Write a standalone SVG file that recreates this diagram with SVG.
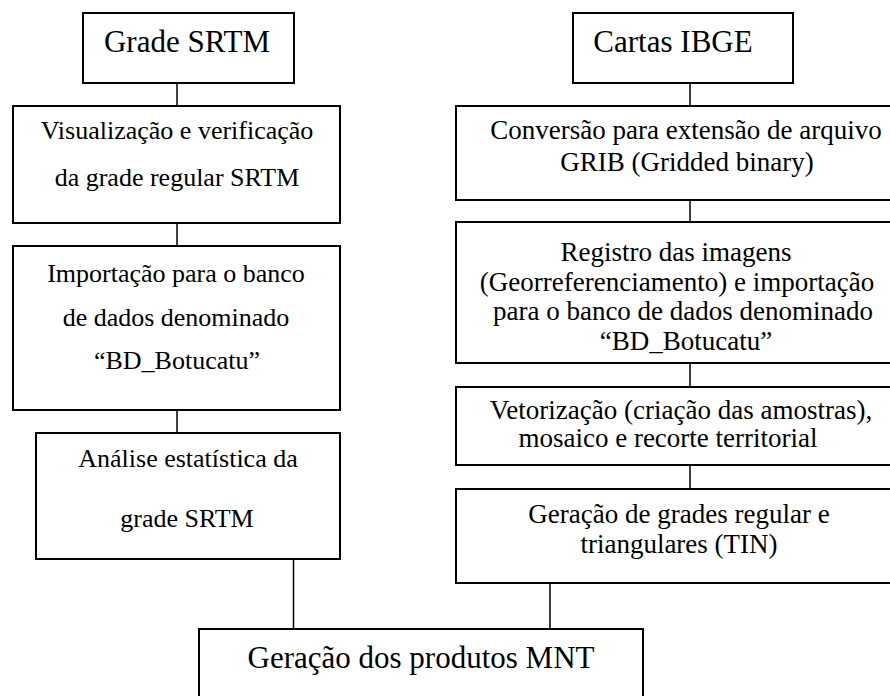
<svg xmlns="http://www.w3.org/2000/svg" width="890" height="696" viewBox="0 0 890 696">
<style>
.box{fill:#fff;stroke:#000;stroke-width:2}
.con line{stroke:#000;stroke-width:1.5}
text{fill:#000;text-anchor:middle}
.h{font-size:31px}
.l{font-size:26px}
.r{font-size:27px}
</style>
<rect width="890" height="696" fill="#fff"/>
<g id="connectors" class="con">
<line x1="177" y1="83" x2="177" y2="106"/>
<line x1="177" y1="223" x2="177" y2="246"/>
<line x1="177" y1="410" x2="177" y2="433"/>
<line x1="293.5" y1="559" x2="293.5" y2="629"/>
<line x1="690" y1="83" x2="690" y2="106"/>
<line x1="690" y1="200" x2="690" y2="222"/>
<line x1="690" y1="363" x2="690" y2="387"/>
<line x1="690" y1="465" x2="690" y2="489"/>
<line x1="550" y1="583" x2="550" y2="629"/>
</g>
<g font-family="'Liberation Serif', 'Times New Roman', 'DejaVu Serif', serif">
<g id="grade-srtm">
<rect class="box" x="83" y="13" width="211" height="70"/>
<text class="h" x="187" y="52">Grade SRTM</text>
</g>
<g id="visualizacao">
<rect class="box" x="13" y="106" width="327" height="117"/>
<text class="l" x="177" y="139">Visualização e verificação</text>
<text class="l" x="177" y="186">da grade regular SRTM</text>
</g>
<g id="importacao">
<rect class="box" x="13" y="246" width="327" height="164"/>
<text class="l" x="176" y="282">Importação para o banco</text>
<text class="l" x="176" y="326">de dados denominado</text>
<text class="l" x="177" y="369">“BD_Botucatu”</text>
</g>
<g id="analise">
<rect class="box" x="36" y="433" width="304" height="126"/>
<text class="l" x="188" y="467">Análise estatística da</text>
<text class="l" x="187" y="527">grade SRTM</text>
</g>
<g id="cartas-ibge">
<rect class="box" x="573" y="13" width="220" height="70"/>
<text class="h" x="673" y="52">Cartas IBGE</text>
</g>
<g id="conversao">
<rect class="box" x="456" y="106" width="450" height="94"/>
<text class="r" x="686" y="139">Conversão para extensão de arquivo</text>
<text class="r" x="687" y="171">GRIB (Gridded binary)</text>
</g>
<g id="registro">
<rect class="box" x="456" y="222" width="450" height="141"/>
<text class="r" x="676" y="261">Registro das imagens</text>
<text class="r" x="677" y="290.5">(Georreferenciamento) e importação</text>
<text class="r" x="683" y="320">para o banco de dados denominado</text>
<text class="r" x="686" y="349.5">“BD_Botucatu”</text>
</g>
<g id="vetorizacao">
<rect class="box" x="456" y="387" width="450" height="78"/>
<text class="r" x="681" y="419">Vetorização (criação das amostras),</text>
<text class="r" x="668" y="447">mosaico e recorte territorial</text>
</g>
<g id="geracao-grades">
<rect class="box" x="456" y="489" width="450" height="94"/>
<text class="r" x="679" y="523">Geração de grades regular e</text>
<text class="r" x="679" y="553">triangulares (TIN)</text>
</g>
<g id="produtos-mnt">
<rect class="box" x="199" y="629" width="444" height="80"/>
<text class="h" x="421" y="668">Geração dos produtos MNT</text>
</g>
</g>
</svg>
